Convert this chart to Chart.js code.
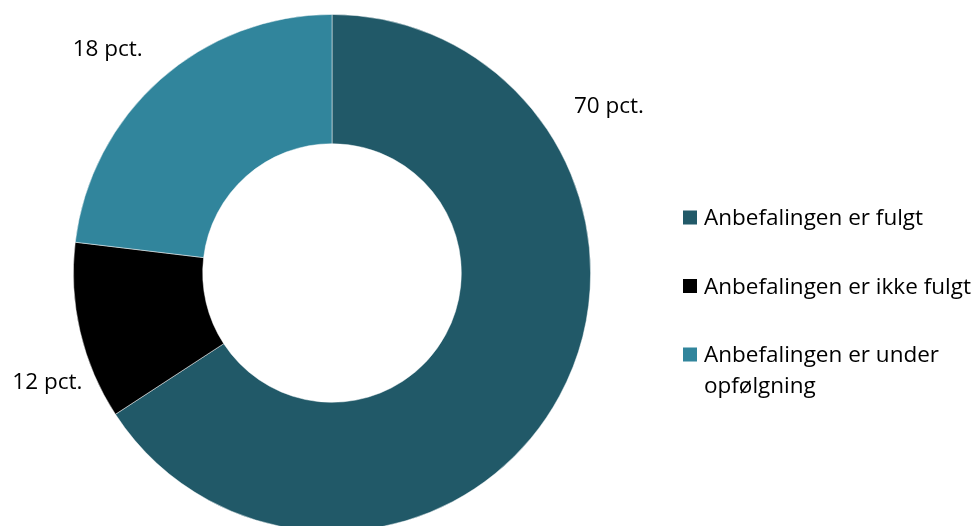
<!DOCTYPE html>
<html>
<head>
<meta charset="utf-8">
<script src="https://cdn.jsdelivr.net/npm/chart.js@4"></script>
<style>
  html, body { margin: 0; padding: 0; background: #fff; overflow: hidden; width: 980px; height: 526px; }
  #wrap { position: absolute; left: 0; top: 0; width: 980px; height: 546px; }
</style>
</head>
<body>
<div id="wrap"><canvas id="c" width="980" height="546"></canvas></div>
<script>
// Categories (legend text, possibly split into lines)
const categories = [
  ['Anbefalingen er fulgt'],
  ['Anbefalingen er ikke fulgt'],
  ['Anbefalingen er under', 'opfølgning']
];
// Slice values as read from the drawn arcs
const values = [65.8, 11.1, 23.1];
// Data label texts as printed on the chart
const valueLabels = ['70 pct.', '12 pct.', '18 pct.'];
const colors = ['#215968', '#000000', '#31859C'];

const FONT = '"Open Sans", "Noto Sans", sans-serif';

const labelPlugin = {
  id: 'outerLabels',
  afterDatasetsDraw(chart, args, opts) {
    const ctx = chart.ctx;
    const meta = chart.getDatasetMeta(0);
    ctx.save();
    ctx.font = opts.fontSize + 'px ' + FONT;
    ctx.fillStyle = '#000';
    ctx.textAlign = 'center';
    ctx.textBaseline = 'middle';
    meta.data.forEach((arc, i) => {
      const p = arc.getProps(['x', 'y', 'startAngle', 'endAngle', 'outerRadius'], true);
      let ang = (p.startAngle + p.endAngle) / 2 + (opts.angleShift[i] || 0) * Math.PI / 180;
      const r = p.outerRadius * opts.distance[i];
      ctx.fillText(valueLabels[i], p.x + Math.cos(ang) * r, p.y + Math.sin(ang) * r);
    });
    ctx.restore();
  }
};

const legendPlugin = {
  id: 'sideLegend',
  afterDraw(chart, args, opts) {
    const ctx = chart.ctx;
    ctx.save();
    ctx.font = opts.fontSize + 'px ' + FONT;
    ctx.textBaseline = 'alphabetic';
    ctx.textAlign = 'left';
    let y = opts.top;
    categories.forEach((lines, i) => {
      ctx.fillStyle = colors[i];
      ctx.fillRect(opts.left, y - opts.box - 0.5, opts.box, opts.box);
      ctx.fillStyle = '#000';
      lines.forEach((ln, k) => {
        ctx.fillText(ln, opts.left + opts.box + opts.gap, y + k * opts.lineHeight);
      });
      y += opts.itemGap;
    });
    ctx.restore();
  }
};

new Chart(document.getElementById('c'), {
  type: 'doughnut',
  data: {
    labels: categories.map(l => l.join(' ')),
    datasets: [{
      data: values,
      backgroundColor: colors,
      borderColor: 'rgba(255,255,255,0.6)',
      borderWidth: 0.8,
      hoverOffset: 0
    }]
  },
  options: {
    responsive: false,
    animation: false,
    cutout: '50%',
    layout: { padding: { left: 73, right: 389, top: 14, bottom: 14 } },
    plugins: {
      legend: { display: false },
      tooltip: { enabled: false },
      outerLabels: { fontSize: 22.5, angleShift: [-59.5, -8, -3.5], distance: [1.25, 1.18, 1.225] },
      sideLegend: { fontSize: 22.5, left: 683, top: 225, box: 14, gap: 7, itemGap: 68.5, lineHeight: 31 }
    }
  },
  plugins: [labelPlugin, legendPlugin]
});
</script>
</body>
</html>
